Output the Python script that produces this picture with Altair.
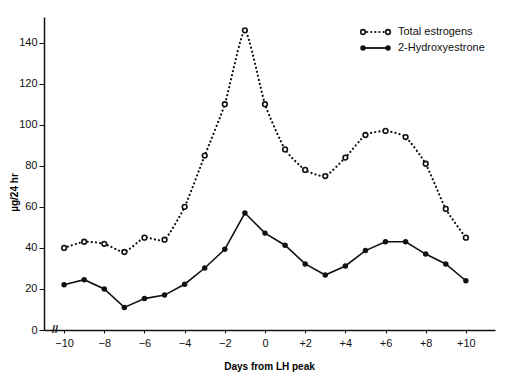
import altair as alt
import pandas as pd

days = list(range(-10, 11))
total_estrogens = [40, 43, 42, 38, 45, 44, 60, 85, 110, 146, 110, 88, 78, 75, 84, 95, 97, 94, 81, 59, 45]
hydroxyestrone = [22, 24.5, 20, 11, 15.3, 17, 22.3, 30.2, 39.3, 57, 47.2, 41.3, 32.2, 26.8, 31.2, 38.7, 43, 43, 37, 32.2, 24]
series_names = ["Total estrogens", "2-Hydroxyestrone"]
x_ticks = [-10, -8, -6, -4, -2, 0, 2, 4, 6, 8, 10]
y_ticks = [0, 20, 40, 60, 80, 100, 120, 140]

df_t = pd.DataFrame({"day": days, "value": total_estrogens})
df_h = pd.DataFrame({"day": days, "value": hydroxyestrone})

FONT = "Liberation Sans"
xs = alt.Scale(domain=[-11, 11.45], nice=False, zero=False)
ys = alt.Scale(domain=[0, 152.5], nice=False)

x_axis = alt.Axis(
    values=x_ticks, grid=False, tickSize=3, labelPadding=4,
    labelExpr="datum.value > 0 ? '+' + datum.value : (datum.value < 0 ? '\u2212' + abs(datum.value) : '0')",
    title="Days from LH peak", titleFont=FONT, titleFontSize=10, titleFontWeight="bold",
    titleX=225, titleY=31, titleBaseline="top",
    labelFont=FONT, labelFontSize=11, labelColor="#111", domainColor="#111", tickColor="#111",
    domainWidth=1.3,
)
y_axis = alt.Axis(
    values=y_ticks, grid=False, tickSize=5, labelPadding=2,
    title="\u00b5g/24 hr", titleFont=FONT, titleFontSize=10, titleFontWeight="bold",
    titleX=-30, titleY=175, titleAngle=-90, titleBaseline="middle", titleAlign="center",
    labelFont=FONT, labelFontSize=11, labelColor="#111", domainColor="#111", tickColor="#111",
    domainWidth=1.5,
)

X = alt.X("day:Q", scale=xs, axis=x_axis)
Y = alt.Y("value:Q", scale=ys, axis=y_axis)

base_t = alt.Chart(df_t)
line_t = base_t.mark_line(
    color="#111", strokeWidth=2.2, strokeDash=[0.1, 4], strokeCap="round",
    interpolate="cardinal", tension=0.45,
).encode(x=X, y=Y)
pts_t = base_t.mark_point(
    shape="circle", filled=True, fill="white", stroke="#111", strokeWidth=1.6, size=22, opacity=1,
).encode(x=X, y=Y)

base_h = alt.Chart(df_h)
line_h = base_h.mark_line(color="#111", strokeWidth=1.6).encode(x=X, y=Y)
pts_h = base_h.mark_point(shape="circle", filled=True, color="#111", size=30, opacity=1).encode(x=X, y=Y)

# axis break marks
brk = pd.DataFrame({"t": ["//"]})
break_mark = alt.Chart(brk).mark_text(
    font=FONT, fontSize=11, fontWeight="bold", color="#111", align="center", baseline="middle"
).encode(text="t:N", x=alt.value(11), y=alt.value(313))

# legend
one = pd.DataFrame({"k": [0]})
leg_y = [15, 31]
lx0, lx1 = 319, 344
legend_layers = []
legend_layers.append(alt.Chart(one).mark_rule(
    color="#111", strokeWidth=2.2, strokeDash=[0.1, 4], strokeCap="round"
).encode(x=alt.value(lx0), x2=alt.value(lx1), y=alt.value(leg_y[0])))
legend_layers.append(alt.Chart(one).mark_rule(color="#111", strokeWidth=1.8).encode(
    x=alt.value(lx0), x2=alt.value(lx1), y=alt.value(leg_y[1])))
for px in (lx0, lx1):
    legend_layers.append(alt.Chart(one).mark_point(
        shape="circle", filled=True, fill="white", stroke="#111", strokeWidth=1.6, size=22, opacity=1
    ).encode(x=alt.value(px), y=alt.value(leg_y[0])))
    legend_layers.append(alt.Chart(one).mark_point(
        shape="circle", filled=True, color="#111", size=30, opacity=1
    ).encode(x=alt.value(px), y=alt.value(leg_y[1])))
for i, name in enumerate(series_names):
    legend_layers.append(alt.Chart(pd.DataFrame({"name": [name]})).mark_text(
        font=FONT, fontSize=11, color="#111", align="left", baseline="middle"
    ).encode(text="name:N", x=alt.value(354), y=alt.value(leg_y[i])))

chart = alt.layer(
    line_t, pts_t, line_h, pts_h, break_mark, *legend_layers,
).properties(
    width=451, height=313,
    padding={"left": 44, "top": 17, "right": 14, "bottom": 46},
    autosize=alt.AutoSizeParams(type="none"),
    background="white",
).configure_view(stroke=None)

chart.save("out.html", embed_options={"renderer": "svg", "actions": False})
